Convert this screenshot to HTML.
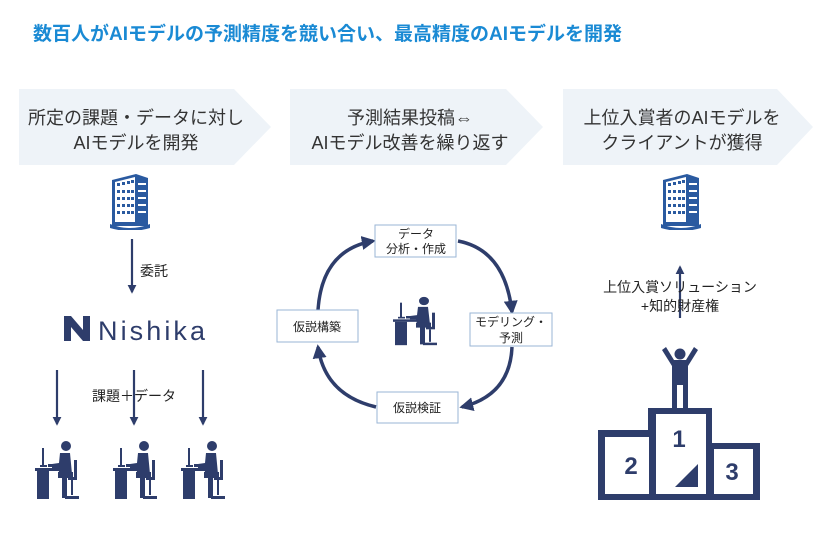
<!DOCTYPE html>
<html><head><meta charset="utf-8"><style>
html,body{margin:0;padding:0;background:#fff;}
svg{display:block;font-family:"Liberation Sans","Noto Sans CJK JP",sans-serif;}
</style></head><body>
<svg width="835" height="535" viewBox="0 0 835 535" xmlns="http://www.w3.org/2000/svg">
<defs>
<marker id="ah" viewBox="0 0 10 10" refX="8" refY="5" markerWidth="4" markerHeight="4" orient="auto"><path d="M0,0 L10,5 L0,10 z" fill="#2e3d6b"/></marker>
<symbol id="bld" viewBox="0 0 40 58">
<path d="M2,8 L26,2 L38,6 L38,54 L2,54 z" fill="#2a5aa0"/>
<path d="M5,10 L25,5 L25,50 L5,50 z" fill="#fff"/>
<g fill="#2a5aa0">
<rect x="7" y="11" width="3" height="3"/><rect x="12" y="10" width="3" height="3"/><rect x="17" y="9" width="3" height="3"/><rect x="21" y="8" width="3" height="3"/>
<rect x="7" y="18" width="3" height="3"/><rect x="12" y="18" width="3" height="3"/><rect x="17" y="18" width="3" height="3"/><rect x="21" y="18" width="3" height="3"/>
<rect x="7" y="25" width="3" height="3"/><rect x="12" y="25" width="3" height="3"/><rect x="17" y="25" width="3" height="3"/><rect x="21" y="25" width="3" height="3"/>
<rect x="7" y="32" width="3" height="3"/><rect x="12" y="32" width="3" height="3"/><rect x="17" y="32" width="3" height="3"/><rect x="21" y="32" width="3" height="3"/>
<rect x="7" y="39" width="3" height="3"/><rect x="12" y="39" width="3" height="3"/><rect x="17" y="39" width="3" height="3"/><rect x="21" y="39" width="3" height="3"/>
</g>
<g fill="#fff"><rect x="28" y="11" width="8" height="2"/><rect x="28" y="18" width="8" height="2"/><rect x="28" y="25" width="8" height="2"/><rect x="28" y="32" width="8" height="2"/><rect x="28" y="39" width="8" height="2"/></g>
<path d="M0,52 Q20,60 40,52 L40,56 Q20,62 0,56 z" fill="#2a5aa0"/>
</symbol>
<symbol id="person" viewBox="0 0 45 60" preserveAspectRatio="none">
<g fill="#2e3d6b">
<rect x="0" y="28" width="24" height="3"/>
<rect x="2" y="31" width="12" height="28"/>
<rect x="7" y="8" width="2" height="18"/>
<rect x="5" y="25" width="7" height="2"/>
<rect x="13" y="24" width="8" height="3"/>
<circle cx="31" cy="6" r="5"/>
<path d="M25,13 L35,13 L37,34 L25,36 L23,28 L17,28 L17,24 L24,23 z"/>
<path d="M23,32 L38,32 L38,38 L32,38 L32,58 L27,58 L27,38 L23,38 z"/>
<rect x="39" y="20" width="3" height="18"/>
<rect x="33" y="37" width="9" height="3"/>
<rect x="36" y="40" width="2" height="15"/>
<path d="M30,56 L44,56 L44,59 L30,59 z"/>
</g>
</symbol>
</defs>

<text x="33" y="40" font-size="19" font-weight="bold" fill="#1a8ad4" textLength="589" lengthAdjust="spacingAndGlyphs">数百人がAIモデルの予測精度を競い合い、最高精度のAIモデルを開発</text>

<g fill="#eef3f8">
<path d="M19,89 L234,89 L271,127 L234,165 L19,165 z"/>
<path d="M290,89 L506,89 L543,127 L506,165 L290,165 z"/>
<path d="M563,89 L777,89 L813,127 L777,165 L563,165 z"/>
</g>
<g font-size="18" fill="#333" text-anchor="middle">
<text x="136" y="124">所定の課題・データに対し</text>
<text x="136" y="149">AIモデルを開発</text>
<text x="410" y="124">予測結果投稿⇔</text>
<text x="410" y="149">AIモデル改善を繰り返す</text>
<text x="682" y="124">上位入賞者のAIモデルを</text>
<text x="682" y="149">クライアントが獲得</text>
</g>

<use href="#bld" x="110" y="172" width="40" height="58"/>
<use href="#bld" x="661" y="172" width="40" height="58"/>

<g stroke="#2e3d6b" stroke-width="2.2" fill="none" marker-end="url(#ah)">
<line x1="132" y1="239" x2="132" y2="292"/>
<line x1="57" y1="370" x2="57" y2="424"/>
<line x1="134" y1="370" x2="134" y2="424"/>
<line x1="203" y1="370" x2="203" y2="424"/>
<line x1="680" y1="318" x2="680" y2="267"/>
</g>
<g font-size="14" fill="#222">
<text x="140" y="276">委託</text>
<text x="92" y="401">課題＋データ</text>
</g>

<g fill="#2e3d6b">
<path d="M64,316 L71,316 L83,330 L83,316 L90,316 L90,341 L83,341 L71,327 L71,341 L64,341 z"/>
</g>
<text x="98" y="340" font-size="27" fill="#2e3d6b" textLength="107" lengthAdjust="spacing">Nishika</text>

<use href="#person" x="35" y="440" width="45" height="60"/>
<use href="#person" x="113" y="440" width="45" height="60"/>
<use href="#person" x="181" y="440" width="45" height="60"/>
<use href="#person" x="393" y="296" width="45" height="50"/>

<g stroke="#2e3d6b" stroke-width="3.5" fill="none" marker-end="url(#ah)">
<path d="M458,241 Q505,250 512,312"/>
<path d="M512,347 Q510,395 462,407"/>
<path d="M376,407 Q325,395 318,347"/>
<path d="M318,310 Q322,250 373,241"/>
</g>
<g fill="#fff" stroke="#9ab5d6" stroke-width="1">
<rect x="375" y="225" width="81" height="32"/>
<rect x="470" y="313" width="82" height="33"/>
<rect x="377" y="392" width="81" height="31"/>
<rect x="277" y="310" width="81" height="32"/>
</g>
<g font-size="12" fill="#222" text-anchor="middle">
<text x="416" y="238">データ</text>
<text x="416" y="253">分析・作成</text>
<text x="511" y="326">モデリング・</text>
<text x="511" y="342">予測</text>
<text x="417" y="412">仮説検証</text>
<text x="317" y="331">仮説構築</text>
</g>

<g font-size="14" fill="#222" text-anchor="middle">
<text x="680" y="292">上位入賞ソリューション</text>
<text x="680" y="311">+知的財産権</text>
</g>

<g fill="#2e3d6b">
<circle cx="680" cy="354" r="5.5"/>
<path d="M662,350 L666,347 L674,360 L686,360 L694,347 L698,350 L688,366 L688,410 L683,410 L683,385 L677,385 L677,410 L672,410 L672,366 z"/>
<path d="M648,408 L712,408 L712,443 L760,443 L760,500 L598,500 L598,430 L648,430 z"/>
</g>
<g fill="#fff">
<rect x="656" y="414" width="50" height="80"/>
<rect x="605" y="437" width="44" height="57"/>
<rect x="714" y="449" width="39" height="45"/>
</g>
<path d="M675,487 L698,487 L698,464 z" fill="#2e3d6b"/>
<g font-size="24" font-weight="bold" fill="#2e3d6b" text-anchor="middle">
<text x="679" y="447">1</text>
<text x="631" y="474">2</text>
<text x="732" y="480">3</text>
</g>
</svg>
</body></html>
